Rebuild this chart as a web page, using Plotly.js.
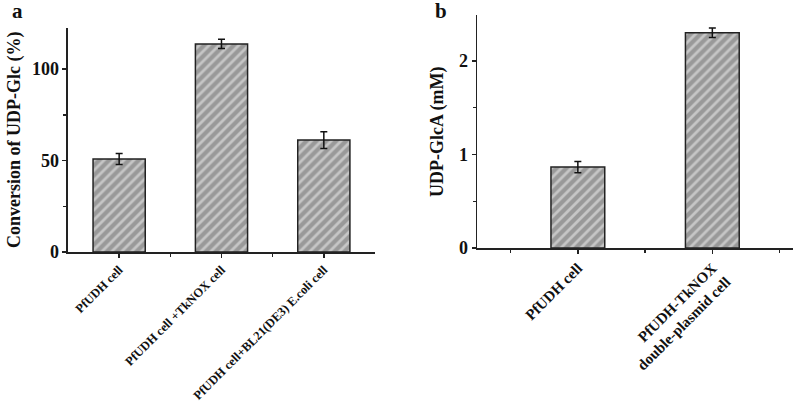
<!DOCTYPE html>
<html><head><meta charset="utf-8">
<script src="https://cdn.plot.ly/plotly-3.0.1.min.js"></script>
<style>html,body{margin:0;padding:0;background:#fff}#c{width:797px;height:406px}</style>
</head><body><div id="c"></div>
<script>
const catsA = ["PfUDH cell", "PfUDH cell +TkNOX cell", "PfUDH cell+BL21(DE3) E.coli cell"];
const valsA = [50.8, 113.7, 61.2];
const errA = [3.0, 2.5, 4.6];
const catsB = ["PfUDH cell", "PfUDH-TkNOX<br>double-plasmid cell"];
const valsB = [0.866, 2.30];
const errB = [0.06, 0.05];
const yTicksA = [0, 50, 100];
const yTicksB = [0, 1, 2];

const F = "Liberation Serif, Times New Roman, serif";
const pattern = {shape: "/", bgcolor: "#999999", fgcolor: "#c6c6c6", size: 7, solidity: 0.4};

const traces = [
  {type: "bar", x: catsA.map((_, i) => i), y: valsA, width: 0.51, xaxis: "x", yaxis: "y",
   marker: {color: "#999999", pattern: pattern, line: {color: "#222", width: 1.5}},
   error_y: {type: "data", array: errA, visible: true, color: "#111", thickness: 1.5, width: 3.5},
   hoverinfo: "skip", showlegend: false},
  {type: "bar", x: catsB.map((_, i) => i), y: valsB, width: 0.4, xaxis: "x2", yaxis: "y2",
   marker: {color: "#999999", pattern: pattern, line: {color: "#222", width: 1.5}},
   error_y: {type: "data", array: errB, visible: true, color: "#111", thickness: 1.5, width: 3.5},
   hoverinfo: "skip", showlegend: false}
];

const axCommon = {showgrid: false, zeroline: false, showline: true, linecolor: "#222", linewidth: 1.5,
  ticks: "outside", ticklen: 4, tickwidth: 1.5, tickcolor: "#222", automargin: false, fixedrange: true};

const layout = {
  width: 797, height: 406, margin: {l: 0, r: 0, t: 0, b: 0},
  paper_bgcolor: "#fff", plot_bgcolor: "#fff",
  font: {family: F, color: "#111"},
  bargap: 0,
  xaxis: Object.assign({}, axCommon, {domain: [0.0853, 0.4705], anchor: "y", range: [-0.5, 2.5],
    tickmode: "array", tickvals: [0, 1, 2], ticktext: catsA, tickangle: -45,
    tickfont: {family: F, size: 12.5, weight: "bold", color: "#111"},
    minor: {tickmode: "array", tickvals: [0.5, 1.5], ticks: "outside", ticklen: 3, tickcolor: "#222", tickwidth: 1.5}}),
  yaxis: Object.assign({}, axCommon, {domain: [0.379, 0.931], anchor: "x", range: [0, 122.4],
    tickmode: "array", tickvals: yTicksA, ticktext: yTicksA.map(String),
    tickfont: {family: F, size: 18, weight: "bold", color: "#111"},
    minor: {tickmode: "array", tickvals: [25, 75], ticks: "outside", ticklen: 3, tickcolor: "#222", tickwidth: 1.5}}),
  xaxis2: Object.assign({}, axCommon, {domain: [0.5985, 0.995], anchor: "y2", range: [-0.75, 1.6],
    tickmode: "array", tickvals: [0, 1], ticktext: catsB, tickangle: -45,
    tickfont: {family: F, size: 15, weight: "bold", color: "#111"},
    minor: {tickmode: "array", tickvals: [-0.5, 0.5, 1.5], ticks: "outside", ticklen: 3, tickcolor: "#222", tickwidth: 1.5}}),
  yaxis2: Object.assign({}, axCommon, {domain: [0.389, 0.963], anchor: "x2", range: [0, 2.49],
    tickmode: "array", tickvals: yTicksB, ticktext: yTicksB.map(String),
    tickfont: {family: F, size: 18, weight: "bold", color: "#111"},
    minor: {tickmode: "array", tickvals: [0.5, 1.5], ticks: "outside", ticklen: 3, tickcolor: "#222", tickwidth: 1.5}}),
  annotations: [
    {text: "a", xref: "paper", yref: "paper", x: 10/797, y: 1 - 11/406, xanchor: "left", yanchor: "middle",
     showarrow: false, font: {family: F, size: 21, weight: "bold", color: "#111"}},
    {text: "b", xref: "paper", yref: "paper", x: 433/797, y: 1 - 11/406, xanchor: "left", yanchor: "middle",
     showarrow: false, font: {family: F, size: 21, weight: "bold", color: "#111"}},
    {text: "Conversion of UDP-Glc (%)", xref: "paper", yref: "paper", x: 14/797, y: 1 - 140/406,
     xanchor: "center", yanchor: "middle", textangle: -90, showarrow: false,
     font: {family: F, size: 18, weight: "bold", color: "#111"}},
    {text: "UDP-GlcA (mM)", xref: "paper", yref: "paper", x: 437/797, y: 1 - 132/406,
     xanchor: "center", yanchor: "middle", textangle: -90, showarrow: false,
     font: {family: F, size: 18, weight: "bold", color: "#111"}}
  ]
};

Plotly.newPlot("c", traces, layout, {staticPlot: true, displayModeBar: false});
</script></body></html>
